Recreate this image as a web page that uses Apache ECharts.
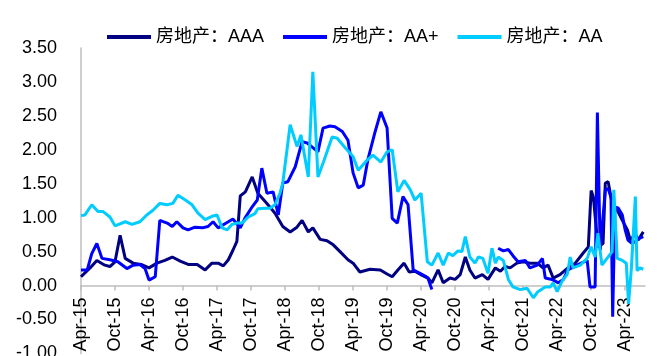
<!DOCTYPE html>
<html>
<head>
<meta charset="utf-8">
<script src="https://cdn.jsdelivr.net/npm/echarts@6/dist/echarts.min.js"></script>
<style>
html, body { margin: 0; padding: 0; background: #fff; }
#main { width: 662px; height: 356px; }
</style>
</head>
<body>
<div id="main"></div>
<script>
// x = months counted from Apr-15
const tickLabels = ['Apr-15', 'Oct-15', 'Apr-16', 'Oct-16', 'Apr-17', 'Oct-17', 'Apr-18', 'Oct-18',
  'Apr-19', 'Oct-19', 'Apr-20', 'Oct-20', 'Apr-21', 'Oct-21', 'Apr-22', 'Oct-22', 'Apr-23'];
const names = ['房地产：AAA', '房地产：AA+', '房地产：AA'];

const aaa = [
  [0, 0.13], [1.6, 0.26], [2.8, 0.37], [4.2, 0.30], [5.1, 0.28], [6.0, 0.35], [6.9, 0.74], [7.8, 0.40],
  [9.2, 0.33], [10.6, 0.31], [12.0, 0.26], [13.4, 0.33], [14.8, 0.37], [16.1, 0.42], [17.5, 0.36],
  [18.9, 0.31], [20.5, 0.31], [21.9, 0.23], [23.1, 0.33], [24.2, 0.33], [25.1, 0.29], [26.0, 0.38],
  [26.8, 0.52], [27.5, 0.65], [28.1, 1.32], [29.0, 1.38], [30.2, 1.60], [31.2, 1.36], [32.8, 1.21],
  [34.2, 1.07], [35.6, 0.87], [36.9, 0.79], [38.1, 0.86], [39.0, 0.96], [40.1, 0.79], [40.9, 0.85],
  [42.2, 0.68], [43.4, 0.66], [44.5, 0.60], [45.7, 0.50], [47.1, 0.38], [48.0, 0.33], [49.2, 0.20],
  [51.0, 0.24], [52.8, 0.23], [54.0, 0.17], [54.9, 0.13], [55.9, 0.23], [57.0, 0.33], [57.9, 0.20],
  [58.9, 0.21], [60.2, 0.15], [61.2, 0.11], [61.9, 0.04], [63.0, 0.23], [63.9, 0.04], [65.1, 0.11],
  [66.0, 0.09], [66.9, 0.16], [67.8, 0.42], [68.6, 0.23], [69.5, 0.11], [70.8, 0.16], [71.8, 0.09],
  [73.1, 0.26], [74.0, 0.21], [74.8, 0.28], [75.7, 0.26], [76.9, 0.33], [78.0, 0.35], [79.2, 0.33],
  [80.5, 0.33], [81.5, 0.26], [82.4, 0.30], [83.3, 0.11], [84.5, 0.16], [85.9, 0.26], [87.2, 0.33],
  [88.6, 0.48], [89.5, 0.57], [90.0, 1.40], [90.4, 1.30], [91.2, 0.57], [92.1, 0.62], [92.5, 1.51],
  [93.0, 1.53], [93.7, 1.21], [94.6, 1.11], [95.5, 0.96], [96.4, 0.82], [96.9, 0.67], [97.8, 0.76],
  [98.3, 0.67], [99.2, 0.79]
];

const aaPlus = [
  [0, 0.23], [1.1, 0.23], [1.9, 0.47], [2.8, 0.62], [3.7, 0.40], [5.1, 0.38], [6.5, 0.35], [8.1, 0.25],
  [9.2, 0.30], [10.4, 0.31], [11.3, 0.25], [12.0, 0.08], [13.1, 0.13], [13.9, 0.96], [15.2, 0.92],
  [16.1, 0.87], [16.9, 0.94], [18.0, 0.85], [18.9, 0.82], [20.1, 0.86], [21.4, 0.85], [22.4, 0.87],
  [23.3, 0.94], [24.2, 0.85], [25.4, 0.91], [26.8, 0.98], [28.1, 0.85], [28.9, 0.99], [30.2, 1.16],
  [31.1, 1.26], [31.9, 1.73], [32.8, 1.36], [33.9, 1.38], [34.8, 1.04], [35.6, 1.51], [36.5, 1.53],
  [37.8, 1.75], [39.0, 2.12], [39.9, 2.10], [40.8, 2.04], [41.8, 1.97], [42.7, 2.32], [43.9, 2.35],
  [44.8, 2.34], [46.1, 2.27], [47.1, 2.14], [48.0, 1.66], [48.9, 1.44], [49.8, 1.48], [50.6, 1.85],
  [51.9, 2.27], [52.9, 2.56], [54.0, 2.32], [54.9, 0.99], [55.8, 0.92], [56.8, 1.31], [57.7, 1.19],
  [58.6, 0.23], [59.8, 0.18], [60.7, 0.14], [61.2, 0.11], [61.9, -0.06],
  [67.0, null],
  [73.6, 0.55], [74.5, 0.51], [75.4, 0.53], [76.2, 0.44], [77.1, 0.35], [78.4, 0.37], [79.2, 0.26],
  [80.5, 0.30], [81.4, 0.40], [81.9, 0.11], [83.1, 0.09], [84.2, 0.04], [85.1, 0.09], [85.9, 0.23],
  [87.5, 0.30], [89.3, 0.37], [89.8, -0.02], [90.7, -0.02], [91.1, 2.55], [91.6, 0.52], [92.5, 1.41],
  [93.0, 1.43], [93.5, 1.30], [93.8, -0.46], [94.2, 1.16], [94.8, 1.14], [95.5, 1.04], [96.0, 0.82],
  [96.5, 0.67], [97.2, 0.62], [97.8, 0.65], [98.6, 0.70], [99.2, 0.72]
];

const aa = [
  [0, 1.03], [0.7, 1.04], [1.9, 1.19], [3.0, 1.09], [3.9, 1.09], [5.1, 1.01], [6.0, 0.88], [7.8, 0.94],
  [9.0, 0.90], [10.4, 0.94], [11.6, 1.04], [12.7, 1.11], [13.9, 1.21], [15.2, 1.19], [16.2, 1.21],
  [17.1, 1.33], [18.4, 1.26], [19.6, 1.19], [20.6, 1.07], [21.9, 0.97], [23.1, 1.02], [24.0, 1.04],
  [24.9, 0.85], [25.8, 0.82], [26.6, 0.90], [27.5, 0.92], [28.4, 0.92], [29.5, 1.01], [30.7, 1.06],
  [31.2, 1.13], [32.5, 1.14], [33.4, 1.14], [34.2, 1.19], [35.1, 1.36], [35.6, 1.51], [36.9, 2.37],
  [38.1, 2.05], [38.8, 2.22], [40.1, 1.60], [40.9, 3.15], [41.8, 1.60], [42.9, 1.85], [44.3, 2.19],
  [45.2, 2.17], [46.6, 2.03], [48.0, 1.90], [48.9, 1.70], [50.5, 1.85], [51.5, 1.92], [52.9, 1.82],
  [54.0, 1.97], [54.9, 2.00], [55.9, 1.38], [57.0, 1.55], [58.1, 1.41], [58.9, 1.26], [60.0, 1.36],
  [61.1, 0.35], [61.9, 0.30], [63.0, 0.48], [63.9, 0.30], [64.8, 0.48], [65.6, 0.44], [66.5, 0.51],
  [67.2, 0.50], [67.8, 0.72], [68.6, 0.42], [69.5, 0.33], [70.1, 0.42], [70.9, 0.40], [71.8, 0.18],
  [72.5, 0.55], [73.1, 0.33], [73.6, 0.42], [74.5, 0.37], [75.4, 0.09], [76.2, -0.02], [77.5, -0.06],
  [78.7, -0.04], [79.8, -0.18], [80.6, -0.09], [81.9, -0.02], [82.8, -0.02], [83.3, 0.04],
  [84.0, -0.09], [84.9, 0.07], [85.8, 0.17], [86.3, 0.42], [86.8, 0.26], [88.1, 0.30], [89.3, 0.40],
  [90.0, 0.57], [90.7, 0.42], [91.2, 0.77], [91.9, 0.30], [92.8, 0.40], [93.7, 0.50], [94.0, 1.41],
  [94.6, 0.40], [95.5, 0.37], [96.2, 0.33], [96.6, -0.27], [97.1, 0.26], [97.8, 1.31], [98.1, 0.22],
  [98.6, 0.26], [99.2, 0.24]
];

const colors = ['#000080', '#0000ff', '#00ccff'];
const tickPos = tickLabels.map((_, i) => i * 6);
const toData = (pts) => pts.map(p => [p[0], p[1] === null ? '-' : p[1]]);

const font = 'Liberation Sans, Arial, Noto Sans CJK SC, sans-serif';
const chart = echarts.init(document.getElementById('main'));
chart.setOption({
  animation: false,
  color: colors,
  textStyle: { fontFamily: font },
  legend: {
    left: 102,
    top: 23,
    icon: 'rect',
    itemWidth: 44,
    itemHeight: 4,
    itemGap: 19,
    textStyle: { fontSize: 18, color: '#000', fontFamily: font },
    data: names
  },
  grid: { left: 81, right: 17, top: 48, bottom: 2.6, containLabel: false, outerBoundsMode: 'none' },
  xAxis: {
    type: 'value',
    min: 0,
    max: 99.5,
    // axis sits at y = 0, one unit (1/4.5 of the grid) above the grid bottom
    offset: -67.9,
    splitLine: { show: false },
    axisLine: { onZero: false, lineStyle: { color: '#bfbfbf', width: 1.5 } },
    axisTick: { show: true, length: 5, customValues: tickPos, lineStyle: { color: '#bfbfbf', width: 1.5 } },
    axisLabel: {
      customValues: tickPos,
      rotate: 90,
      margin: 12,
      fontSize: 18,
      color: '#000',
      formatter: (v) => tickLabels[Math.round(v / 6)] || ''
    }
  },
  yAxis: {
    type: 'value',
    min: -1,
    max: 3.5,
    interval: 0.5,
    splitLine: { show: false },
    axisLine: { show: true, lineStyle: { color: '#bfbfbf', width: 1.5 } },
    axisTick: { show: false },
    axisLabel: { fontSize: 18, color: '#000', margin: 24, formatter: (v) => v.toFixed(2) }
  },
  series: names.map((n, i) => ({
    name: n,
    type: 'line',
    data: toData([aaa, aaPlus, aa][i]),
    showSymbol: false,
    symbol: 'none',
    lineStyle: { width: 3, color: colors[i] },
    itemStyle: { color: colors[i] }
  }))
});
</script>
</body>
</html>
